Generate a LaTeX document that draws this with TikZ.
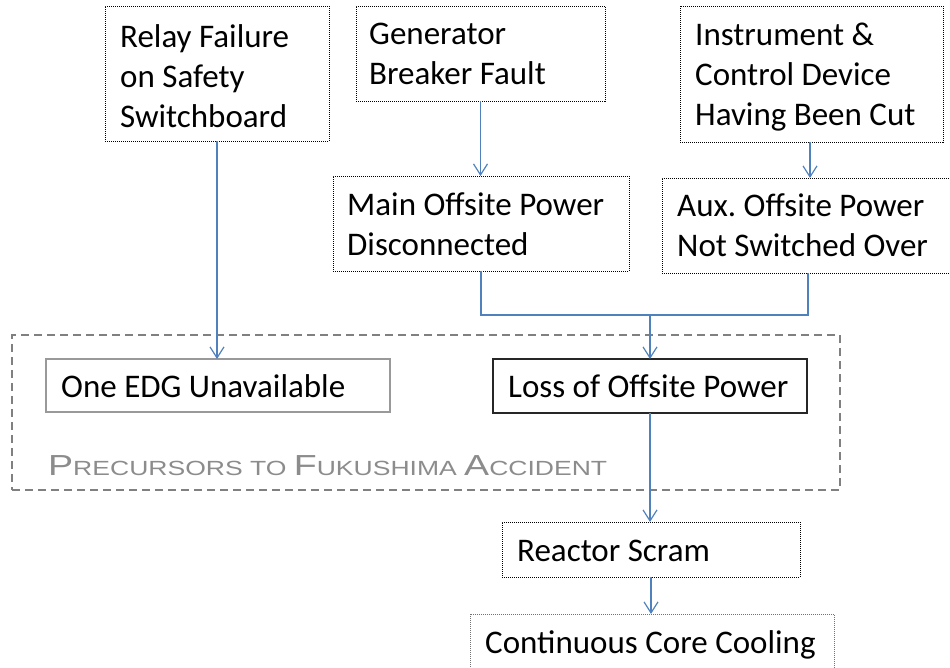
\documentclass[tikz,border=0pt]{standalone}
\usepackage{fontspec}
\usepackage{graphicx}
\setmainfont{Carlito}
\newfontfamily\titlefont{Liberation Sans}
\usetikzlibrary{arrows.meta}
\definecolor{arrowblue}{HTML}{4F81BD}
\definecolor{titlegray}{HTML}{8C8C8C}
\newcommand{\tlbig}[1]{{\fontsize{29}{29}\selectfont #1}}
\newcommand{\tlsmall}[1]{{\fontsize{20.5}{20.5}\selectfont #1}}
\frenchspacing
\tikzset{
  box/.style={anchor=north west, inner sep=0pt, outer sep=0pt},
  dotbox/.style={box, draw=black, line width=1pt, dash pattern=on 1pt off 1pt},
  lightdotbox/.style={box, draw=black!55, line width=1pt, dash pattern=on 1pt off 1pt},
  graybox/.style={box, draw=black!40, line width=1.5pt},
  blackbox/.style={box, draw=black!85, line width=1.3pt},
  groupbox/.style={box, draw=black!50, line width=1.5pt, dash pattern=on 8pt off 5pt},
  txt/.style={anchor=base west, inner sep=0pt, align=left, font=\fontsize{33}{40}\selectfont},
  conn/.style={draw=arrowblue, line width=1.3pt},
  arr/.style={conn, -{Straight Barb[length=11pt,width=14pt,line width=1.2pt]}},
}
\begin{document}
\begin{tikzpicture}[x=1pt,y=-1pt]
\useasboundingbox (0,0) rectangle (950,667);
% group container
\node[groupbox, minimum width=828pt, minimum height=155pt] (group) at (12,335) {};
% boxes
\node[dotbox, minimum width=224pt, minimum height=135pt] (relay) at (105,6) {};
\node[dotbox, minimum width=249pt, minimum height=95pt] (gen) at (356,6) {};
\node[dotbox, minimum width=263pt, minimum height=136pt] (instr) at (680,6) {};
\node[dotbox, minimum width=296pt, minimum height=95pt] (main) at (333,176) {};
\node[dotbox, minimum width=296pt, minimum height=95pt] (aux) at (662,178) {};
\node[graybox, minimum width=344pt, minimum height=53pt] (edg) at (46,359) {};
\node[blackbox, minimum width=314pt, minimum height=54pt] (loss) at (493,359) {};
\node[dotbox, minimum width=298pt, minimum height=55pt] (scram) at (502,522) {};
\node[lightdotbox, minimum width=364pt, minimum height=62pt] (ccc) at (470,614) {};
% texts (base anchor = baseline of last line)
\node[txt] (relayT) at (120,127) {Relay Failure\\on Safety\\Switchboard};
\node[txt] (genT) at (369,84) {Generator\\Breaker Fault};
\node[txt] (instrT) at (695,125) {Instrument \&\\Control Device\\Having Been Cut};
\node[txt] (mainT) at (347,255) {Main Offsite Power\\Disconnected};
\node[txt] (auxT) at (677,256) {Aux.\ Offsite Power\\Not Switched Over};
\node[txt] (edgT) at (61,397) {One EDG Unavailable};
\node[txt] (lossT) at (508,397) {Loss of Offsite Power};
\node[txt] (scramT) at (517,561) {Reactor Scram};
\node[txt] (cccT) at (485,653) {Continuous Core Cooling};
\node[anchor=base west, inner sep=0pt, text=titlegray, font=\titlefont] (title) at (48,475)
  {\resizebox{559pt}{\height}{\tlbig{P}\tlsmall{RECURSORS TO }\tlbig{F}\tlsmall{UKUSHIMA }\tlbig{A}\tlsmall{CCIDENT}}};
% connectors
\coordinate (jn) at (650,315);
\draw[arr] (relay.south) -- (relay.south |- edg.north);
\draw[arr] (gen.south) -- (gen.south |- main.north);
\draw[arr] ([xshift=-1.5pt]instr.south) -- ([xshift=-1.5pt]instr.south |- aux.north);
\draw[conn] (main.south) |- (jn);
\draw[conn] ([xshift=-2pt]aux.south) |- (jn);
\draw[arr] (jn) -- (jn |- loss.north);
\draw[arr] (loss.south) -- (loss.south |- scram.north);
\draw[arr] (scram.south) -- (scram.south |- ccc.north);
\end{tikzpicture}
\end{document}
